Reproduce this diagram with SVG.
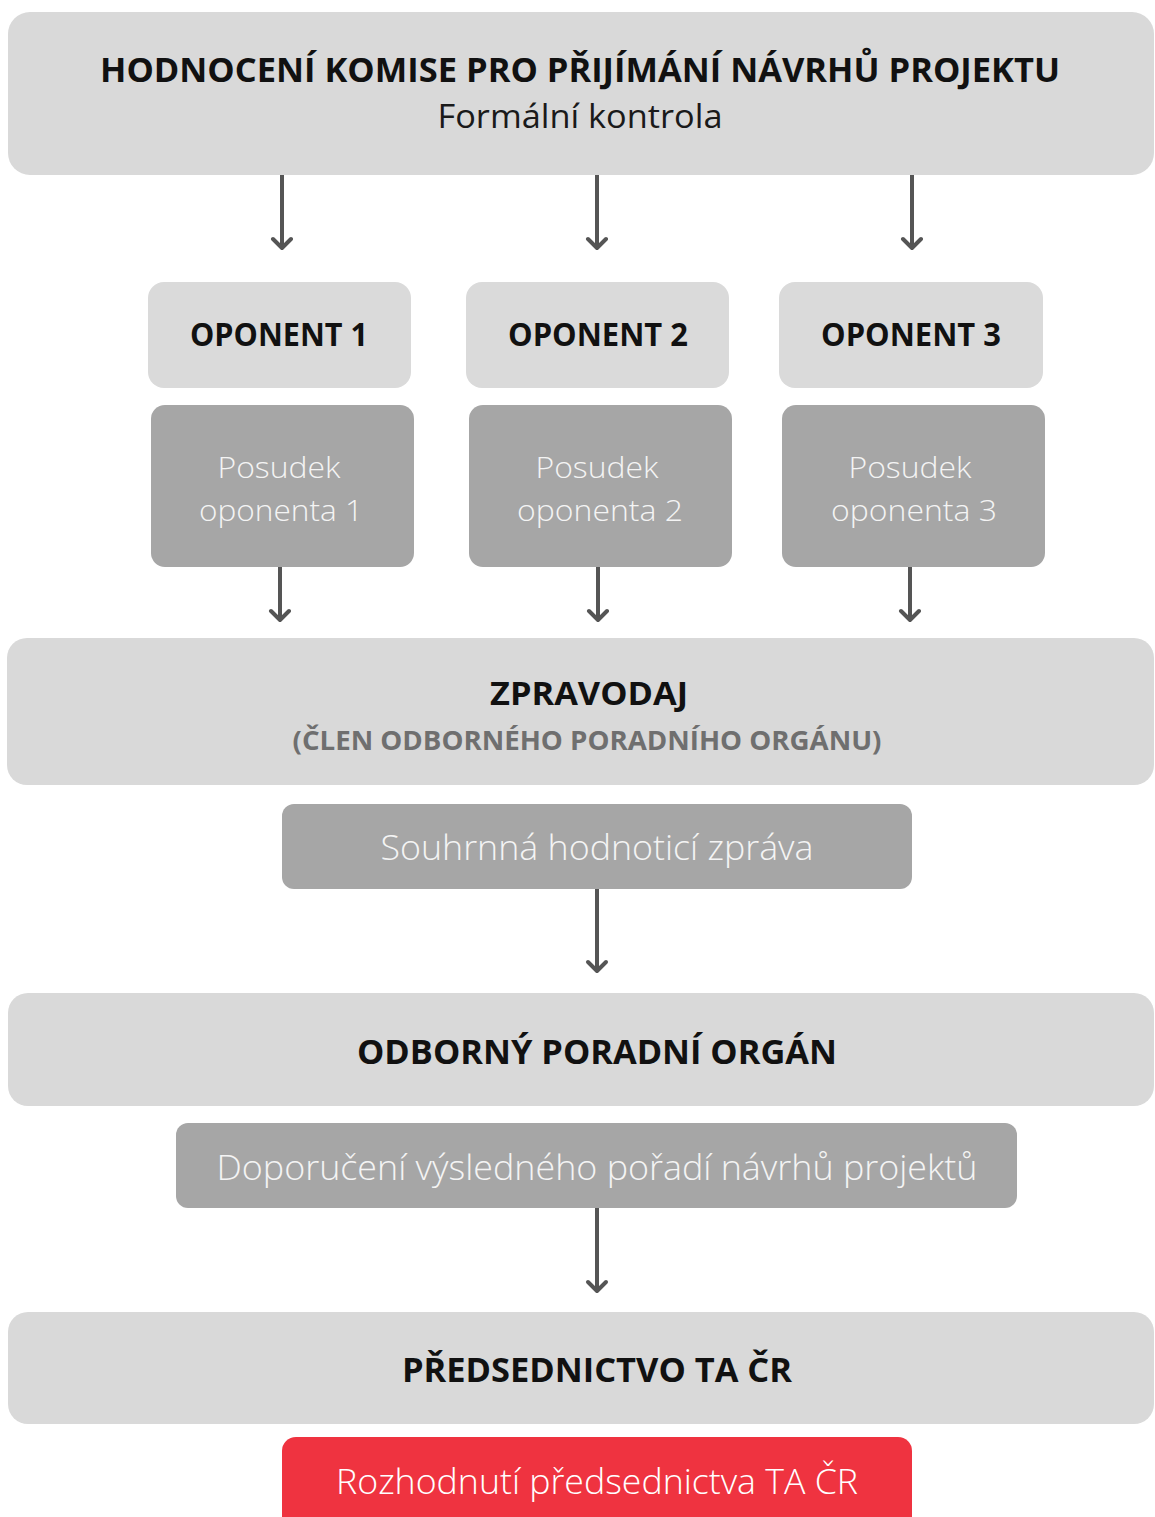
<svg xmlns="http://www.w3.org/2000/svg" width="1155" height="1517" viewBox="0 0 1155 1517">
<defs>
<style>
.band{fill:#d9d9d9}
.op{fill:#dadada}
.dark{fill:#a6a6a6}
.red{fill:#ef3340}
.h{font-family:"Open Sans","Liberation Sans",sans-serif;font-weight:700;fill:#111;text-anchor:middle}
.sub{font-family:"Open Sans","Liberation Sans",sans-serif;font-weight:700;fill:#6f6f6f;text-anchor:middle}
.reg{font-family:"Open Sans","Liberation Sans",sans-serif;font-weight:400;fill:#1a1a1a;text-anchor:middle}
.lt{font-family:"Open Sans","Liberation Sans",sans-serif;font-weight:350;fill:#f4f4f4;text-anchor:middle}
.conn{stroke:#555;stroke-width:4;fill:none;stroke-linecap:butt}
.head{stroke:#555;stroke-width:4;fill:none;stroke-linecap:round;stroke-linejoin:round}
</style>
</defs>
<rect width="1155" height="1517" fill="#fff"/>

<g id="komise">
<rect class="band" x="8" y="12" width="1146" height="163" rx="22"/>
<text class="h" x="580" y="82" font-size="34" textLength="960" lengthAdjust="spacingAndGlyphs">HODNOCENÍ KOMISE PRO PŘIJÍMÁNÍ NÁVRHŮ PROJEKTU</text>
<text class="reg" x="580" y="128" font-size="32" textLength="285" lengthAdjust="spacingAndGlyphs">Formální kontrola</text>
</g>

<g id="oponent1">
<rect class="op" x="148" y="282" width="263" height="106" rx="16"/>
<text class="h" x="279" y="346" font-size="32" textLength="178" lengthAdjust="spacingAndGlyphs">OPONENT 1</text>
</g>
<g id="oponent2">
<rect class="op" x="466" y="282" width="263" height="106" rx="16"/>
<text class="h" x="598" y="346" font-size="32" textLength="180" lengthAdjust="spacingAndGlyphs">OPONENT 2</text>
</g>
<g id="oponent3">
<rect class="op" x="779" y="282" width="264" height="106" rx="16"/>
<text class="h" x="911" y="346" font-size="32" textLength="180" lengthAdjust="spacingAndGlyphs">OPONENT 3</text>
</g>

<g id="posudek1">
<rect class="dark" x="151" y="405" width="263" height="162" rx="14"/>
<text class="lt" x="279" y="478" font-size="30" textLength="123" lengthAdjust="spacingAndGlyphs">Posudek</text>
<text class="lt" x="281" y="521" font-size="30" textLength="164" lengthAdjust="spacingAndGlyphs">oponenta 1</text>
</g>
<g id="posudek2">
<rect class="dark" x="469" y="405" width="263" height="162" rx="14"/>
<text class="lt" x="597" y="478" font-size="30" textLength="123" lengthAdjust="spacingAndGlyphs">Posudek</text>
<text class="lt" x="600" y="521" font-size="30" textLength="166" lengthAdjust="spacingAndGlyphs">oponenta 2</text>
</g>
<g id="posudek3">
<rect class="dark" x="782" y="405" width="263" height="162" rx="14"/>
<text class="lt" x="910" y="478" font-size="30" textLength="123" lengthAdjust="spacingAndGlyphs">Posudek</text>
<text class="lt" x="914" y="521" font-size="30" textLength="166" lengthAdjust="spacingAndGlyphs">oponenta 3</text>
</g>

<g id="zpravodaj">
<rect class="band" x="7" y="638" width="1147" height="147" rx="20"/>
<text class="h" x="589" y="705" font-size="33" textLength="198" lengthAdjust="spacingAndGlyphs">ZPRAVODAJ</text>
<text class="sub" x="587" y="750" font-size="26" textLength="589" lengthAdjust="spacingAndGlyphs">(ČLEN ODBORNÉHO PORADNÍHO ORGÁNU)</text>
</g>

<g id="souhrnna">
<rect class="dark" x="282" y="804" width="630" height="85" rx="12"/>
<text class="lt" x="597" y="860" font-size="34" textLength="433" lengthAdjust="spacingAndGlyphs">Souhrnná hodnoticí zpráva</text>
</g>

<g id="odborny">
<rect class="band" x="8" y="993" width="1146" height="113" rx="20"/>
<text class="h" x="597" y="1064" font-size="34" textLength="480" lengthAdjust="spacingAndGlyphs">ODBORNÝ PORADNÍ ORGÁN</text>
</g>

<g id="doporuceni">
<rect class="dark" x="176" y="1123" width="841" height="85" rx="12"/>
<text class="lt" x="597" y="1180" font-size="34" textLength="761" lengthAdjust="spacingAndGlyphs">Doporučení výsledného pořadí návrhů projektů</text>
</g>

<g id="predsednictvo">
<rect class="band" x="8" y="1312" width="1146" height="112" rx="20"/>
<text class="h" x="597" y="1382" font-size="34" textLength="390" lengthAdjust="spacingAndGlyphs">PŘEDSEDNICTVO TA ČR</text>
</g>

<g id="rozhodnuti">
<rect class="red" x="282" y="1437" width="630" height="100" rx="14"/>
<text class="lt" x="597" y="1494" font-size="34" style="fill:#fff" textLength="522" lengthAdjust="spacingAndGlyphs">Rozhodnutí předsednictva TA ČR</text>
</g>

<g id="connectors">
<path class="conn" d="M282 175V248M597 175V248M912 175V248"/>
<path class="head" d="M273 239L282 248L291 239M588 239L597 248L606 239M903 239L912 248L921 239"/>
<path class="conn" d="M280 567V620M598 567V620M910 567V620"/>
<path class="head" d="M271 611L280 620L289 611M589 611L598 620L607 611M901 611L910 620L919 611"/>
<path class="conn" d="M597 889V971"/>
<path class="head" d="M588 962L597 971L606 962"/>
<path class="conn" d="M597 1208V1291"/>
<path class="head" d="M588 1282L597 1291L606 1282"/>
</g>
</svg>
